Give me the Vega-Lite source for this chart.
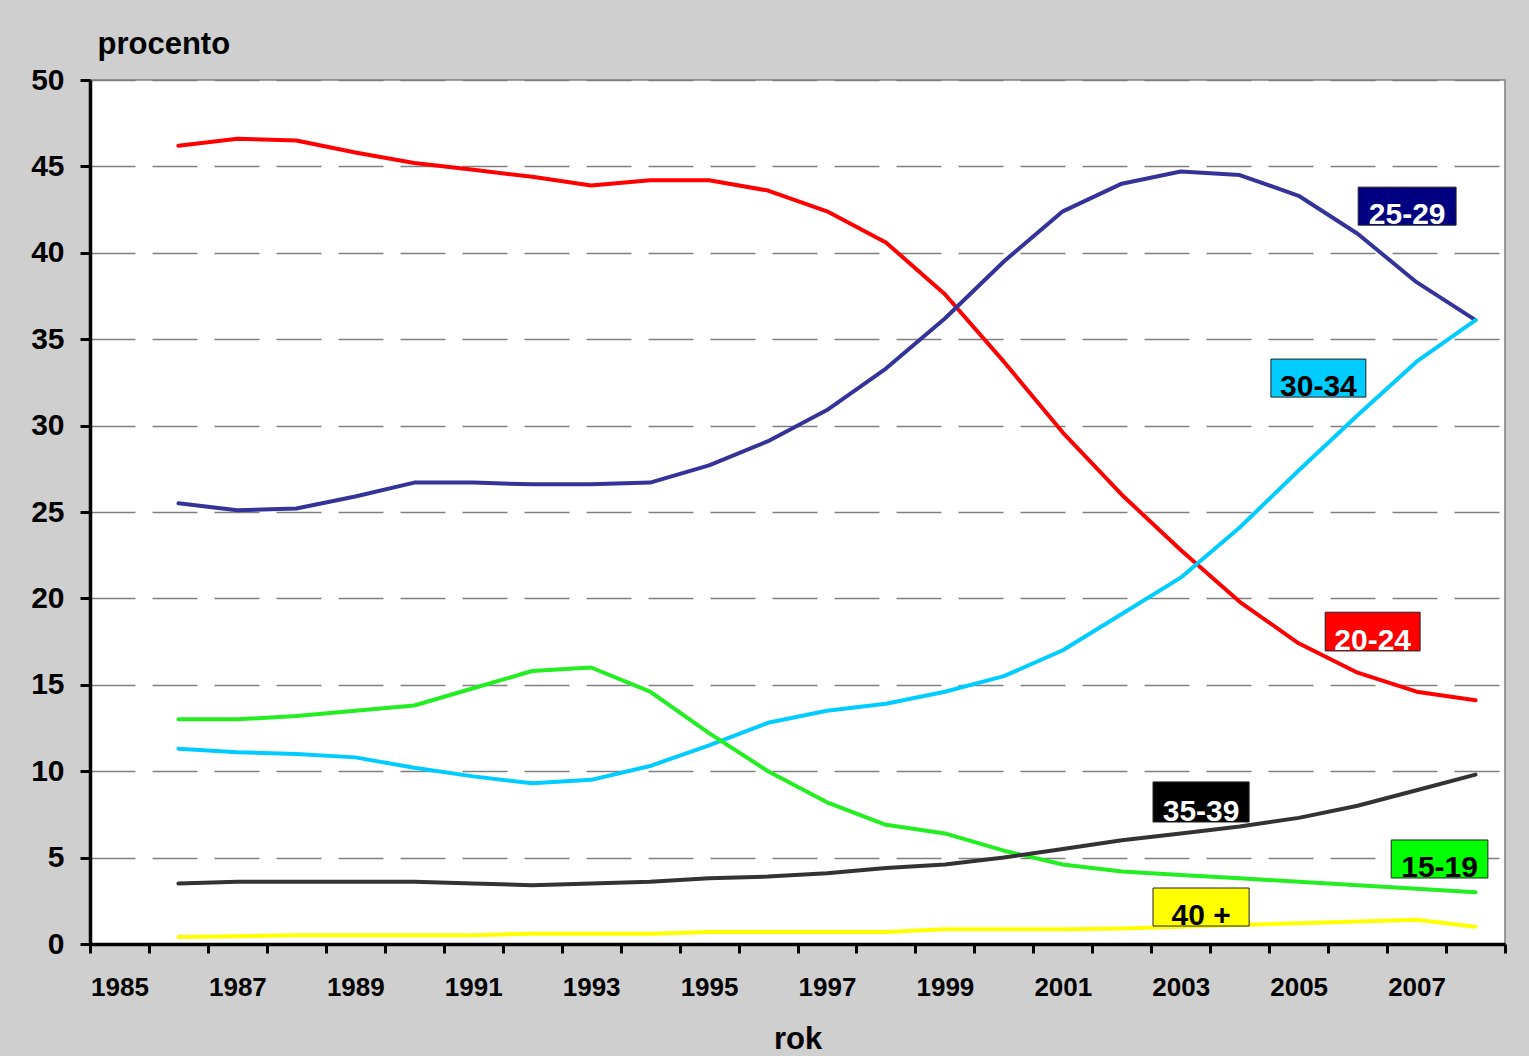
{
  "$schema": "https://vega.github.io/schema/vega-lite/v6.json",
  "width": 1415,
  "height": 864,
  "autosize": {"type": "none"},
  "padding": {"left": 90, "top": 80, "right": 24, "bottom": 112},
  "background": "#cfcfcf",
  "config": {
    "font": "Liberation Sans",
    "view": {"stroke": "#808080", "strokeWidth": 1.5, "fill": "white"}
  },
  "datasets": {
    "series": [
      {"rok": 1986, "grupa": "20-24", "procento": 46.2},
      {"rok": 1987, "grupa": "20-24", "procento": 46.6},
      {"rok": 1988, "grupa": "20-24", "procento": 46.5},
      {"rok": 1989, "grupa": "20-24", "procento": 45.8},
      {"rok": 1990, "grupa": "20-24", "procento": 45.2},
      {"rok": 1991, "grupa": "20-24", "procento": 44.8},
      {"rok": 1992, "grupa": "20-24", "procento": 44.4},
      {"rok": 1993, "grupa": "20-24", "procento": 43.9},
      {"rok": 1994, "grupa": "20-24", "procento": 44.2},
      {"rok": 1995, "grupa": "20-24", "procento": 44.2},
      {"rok": 1996, "grupa": "20-24", "procento": 43.6},
      {"rok": 1997, "grupa": "20-24", "procento": 42.4},
      {"rok": 1998, "grupa": "20-24", "procento": 40.6},
      {"rok": 1999, "grupa": "20-24", "procento": 37.6},
      {"rok": 2000, "grupa": "20-24", "procento": 33.7},
      {"rok": 2001, "grupa": "20-24", "procento": 29.6},
      {"rok": 2002, "grupa": "20-24", "procento": 26.0},
      {"rok": 2003, "grupa": "20-24", "procento": 22.8},
      {"rok": 2004, "grupa": "20-24", "procento": 19.8},
      {"rok": 2005, "grupa": "20-24", "procento": 17.4},
      {"rok": 2006, "grupa": "20-24", "procento": 15.7},
      {"rok": 2007, "grupa": "20-24", "procento": 14.6},
      {"rok": 2008, "grupa": "20-24", "procento": 14.1},
      {"rok": 1986, "grupa": "25-29", "procento": 25.5},
      {"rok": 1987, "grupa": "25-29", "procento": 25.1},
      {"rok": 1988, "grupa": "25-29", "procento": 25.2},
      {"rok": 1989, "grupa": "25-29", "procento": 25.9},
      {"rok": 1990, "grupa": "25-29", "procento": 26.7},
      {"rok": 1991, "grupa": "25-29", "procento": 26.7},
      {"rok": 1992, "grupa": "25-29", "procento": 26.6},
      {"rok": 1993, "grupa": "25-29", "procento": 26.6},
      {"rok": 1994, "grupa": "25-29", "procento": 26.7},
      {"rok": 1995, "grupa": "25-29", "procento": 27.7},
      {"rok": 1996, "grupa": "25-29", "procento": 29.1},
      {"rok": 1997, "grupa": "25-29", "procento": 30.9},
      {"rok": 1998, "grupa": "25-29", "procento": 33.3},
      {"rok": 1999, "grupa": "25-29", "procento": 36.2},
      {"rok": 2000, "grupa": "25-29", "procento": 39.5},
      {"rok": 2001, "grupa": "25-29", "procento": 42.4},
      {"rok": 2002, "grupa": "25-29", "procento": 44.0},
      {"rok": 2003, "grupa": "25-29", "procento": 44.7},
      {"rok": 2004, "grupa": "25-29", "procento": 44.5},
      {"rok": 2005, "grupa": "25-29", "procento": 43.3},
      {"rok": 2006, "grupa": "25-29", "procento": 41.1},
      {"rok": 2007, "grupa": "25-29", "procento": 38.3},
      {"rok": 2008, "grupa": "25-29", "procento": 36.1},
      {"rok": 1986, "grupa": "30-34", "procento": 11.3},
      {"rok": 1987, "grupa": "30-34", "procento": 11.1},
      {"rok": 1988, "grupa": "30-34", "procento": 11.0},
      {"rok": 1989, "grupa": "30-34", "procento": 10.8},
      {"rok": 1990, "grupa": "30-34", "procento": 10.2},
      {"rok": 1991, "grupa": "30-34", "procento": 9.7},
      {"rok": 1992, "grupa": "30-34", "procento": 9.3},
      {"rok": 1993, "grupa": "30-34", "procento": 9.5},
      {"rok": 1994, "grupa": "30-34", "procento": 10.3},
      {"rok": 1995, "grupa": "30-34", "procento": 11.5},
      {"rok": 1996, "grupa": "30-34", "procento": 12.8},
      {"rok": 1997, "grupa": "30-34", "procento": 13.5},
      {"rok": 1998, "grupa": "30-34", "procento": 13.9},
      {"rok": 1999, "grupa": "30-34", "procento": 14.6},
      {"rok": 2000, "grupa": "30-34", "procento": 15.5},
      {"rok": 2001, "grupa": "30-34", "procento": 17.0},
      {"rok": 2002, "grupa": "30-34", "procento": 19.1},
      {"rok": 2003, "grupa": "30-34", "procento": 21.2},
      {"rok": 2004, "grupa": "30-34", "procento": 24.1},
      {"rok": 2005, "grupa": "30-34", "procento": 27.4},
      {"rok": 2006, "grupa": "30-34", "procento": 30.6},
      {"rok": 2007, "grupa": "30-34", "procento": 33.7},
      {"rok": 2008, "grupa": "30-34", "procento": 36.1},
      {"rok": 1986, "grupa": "15-19", "procento": 13.0},
      {"rok": 1987, "grupa": "15-19", "procento": 13.0},
      {"rok": 1988, "grupa": "15-19", "procento": 13.2},
      {"rok": 1989, "grupa": "15-19", "procento": 13.5},
      {"rok": 1990, "grupa": "15-19", "procento": 13.8},
      {"rok": 1991, "grupa": "15-19", "procento": 14.8},
      {"rok": 1992, "grupa": "15-19", "procento": 15.8},
      {"rok": 1993, "grupa": "15-19", "procento": 16.0},
      {"rok": 1994, "grupa": "15-19", "procento": 14.6},
      {"rok": 1995, "grupa": "15-19", "procento": 12.2},
      {"rok": 1996, "grupa": "15-19", "procento": 10.0},
      {"rok": 1997, "grupa": "15-19", "procento": 8.2},
      {"rok": 1998, "grupa": "15-19", "procento": 6.9},
      {"rok": 1999, "grupa": "15-19", "procento": 6.4},
      {"rok": 2000, "grupa": "15-19", "procento": 5.4},
      {"rok": 2001, "grupa": "15-19", "procento": 4.6},
      {"rok": 2002, "grupa": "15-19", "procento": 4.2},
      {"rok": 2003, "grupa": "15-19", "procento": 4.0},
      {"rok": 2004, "grupa": "15-19", "procento": 3.8},
      {"rok": 2005, "grupa": "15-19", "procento": 3.6},
      {"rok": 2006, "grupa": "15-19", "procento": 3.4},
      {"rok": 2007, "grupa": "15-19", "procento": 3.2},
      {"rok": 2008, "grupa": "15-19", "procento": 3.0},
      {"rok": 1986, "grupa": "35-39", "procento": 3.5},
      {"rok": 1987, "grupa": "35-39", "procento": 3.6},
      {"rok": 1988, "grupa": "35-39", "procento": 3.6},
      {"rok": 1989, "grupa": "35-39", "procento": 3.6},
      {"rok": 1990, "grupa": "35-39", "procento": 3.6},
      {"rok": 1991, "grupa": "35-39", "procento": 3.5},
      {"rok": 1992, "grupa": "35-39", "procento": 3.4},
      {"rok": 1993, "grupa": "35-39", "procento": 3.5},
      {"rok": 1994, "grupa": "35-39", "procento": 3.6},
      {"rok": 1995, "grupa": "35-39", "procento": 3.8},
      {"rok": 1996, "grupa": "35-39", "procento": 3.9},
      {"rok": 1997, "grupa": "35-39", "procento": 4.1},
      {"rok": 1998, "grupa": "35-39", "procento": 4.4},
      {"rok": 1999, "grupa": "35-39", "procento": 4.6},
      {"rok": 2000, "grupa": "35-39", "procento": 5.0},
      {"rok": 2001, "grupa": "35-39", "procento": 5.5},
      {"rok": 2002, "grupa": "35-39", "procento": 6.0},
      {"rok": 2003, "grupa": "35-39", "procento": 6.4},
      {"rok": 2004, "grupa": "35-39", "procento": 6.8},
      {"rok": 2005, "grupa": "35-39", "procento": 7.3},
      {"rok": 2006, "grupa": "35-39", "procento": 8.0},
      {"rok": 2007, "grupa": "35-39", "procento": 8.9},
      {"rok": 2008, "grupa": "35-39", "procento": 9.8},
      {"rok": 1986, "grupa": "40 +", "procento": 0.4},
      {"rok": 1987, "grupa": "40 +", "procento": 0.45},
      {"rok": 1988, "grupa": "40 +", "procento": 0.5},
      {"rok": 1989, "grupa": "40 +", "procento": 0.5},
      {"rok": 1990, "grupa": "40 +", "procento": 0.5},
      {"rok": 1991, "grupa": "40 +", "procento": 0.5},
      {"rok": 1992, "grupa": "40 +", "procento": 0.6},
      {"rok": 1993, "grupa": "40 +", "procento": 0.6},
      {"rok": 1994, "grupa": "40 +", "procento": 0.6},
      {"rok": 1995, "grupa": "40 +", "procento": 0.7},
      {"rok": 1996, "grupa": "40 +", "procento": 0.7},
      {"rok": 1997, "grupa": "40 +", "procento": 0.7},
      {"rok": 1998, "grupa": "40 +", "procento": 0.7},
      {"rok": 1999, "grupa": "40 +", "procento": 0.85},
      {"rok": 2000, "grupa": "40 +", "procento": 0.85},
      {"rok": 2001, "grupa": "40 +", "procento": 0.85},
      {"rok": 2002, "grupa": "40 +", "procento": 0.9},
      {"rok": 2003, "grupa": "40 +", "procento": 1.0},
      {"rok": 2004, "grupa": "40 +", "procento": 1.1},
      {"rok": 2005, "grupa": "40 +", "procento": 1.2},
      {"rok": 2006, "grupa": "40 +", "procento": 1.3},
      {"rok": 2007, "grupa": "40 +", "procento": 1.4},
      {"rok": 2008, "grupa": "40 +", "procento": 1.0}
    ],
    "labels": [
      {"grupa": "25-29", "x1": 2006.01, "x2": 2007.67, "y1": 41.6, "y2": 43.8},
      {"grupa": "30-34", "x1": 2004.53, "x2": 2006.14, "y1": 31.65, "y2": 33.85},
      {"grupa": "20-24", "x1": 2005.45, "x2": 2007.06, "y1": 16.96, "y2": 19.2},
      {"grupa": "35-39", "x1": 2002.53, "x2": 2004.16, "y1": 7.06, "y2": 9.38},
      {"grupa": "15-19", "x1": 2006.57, "x2": 2008.21, "y1": 3.82, "y2": 6.02},
      {"grupa": "40 +", "x1": 2002.53, "x2": 2004.16, "y1": 1.04, "y2": 3.24}
    ]
  },
  "layer": [
    {
      "data": {"name": "series"},
      "mark": {"type": "line", "strokeWidth": 4, "strokeJoin": "round", "strokeCap": "round"},
      "encoding": {
        "x": {
          "field": "rok",
          "type": "ordinal",
          "bandPosition": 0.5,
          "scale": {
            "type": "band",
            "paddingInner": 0,
            "paddingOuter": 0,
            "domain": [1985, 1986, 1987, 1988, 1989, 1990, 1991, 1992, 1993, 1994, 1995, 1996, 1997, 1998, 1999, 2000, 2001, 2002, 2003, 2004, 2005, 2006, 2007, 2008]
          },
          "axis": {
            "title": "rok",
            "titleFontSize": 31,
            "titleFontWeight": "bold",
            "titleColor": "black",
            "titlePadding": 24,
            "tickBand": "extent",
            "labelExpr": "datum.value % 2 == 1 ? datum.label : ''",
            "labelAngle": 0,
            "labelOverlap": false,
            "labelFontSize": 26,
            "labelFontWeight": "bold",
            "labelColor": "black",
            "labelPadding": 21,
            "tickColor": "black",
            "tickWidth": 3,
            "tickSize": 9,
            "domainColor": "black",
            "domainWidth": 3.5,
            "grid": false
          }
        },
        "y": {
          "field": "procento",
          "type": "quantitative",
          "scale": {"domain": [0, 50], "nice": false, "zero": true},
          "axis": {
            "title": "procento",
            "titleAngle": 0,
            "titleAlign": "left",
            "titleBaseline": "alphabetic",
            "titleX": 7,
            "titleY": -27,
            "titleFontSize": 31,
            "titleFontWeight": "bold",
            "titleColor": "black",
            "values": [0, 5, 10, 15, 20, 25, 30, 35, 40, 45, 50],
            "labelFontSize": 30,
            "labelFontWeight": "bold",
            "labelColor": "black",
            "labelPadding": 16,
            "tickColor": "black",
            "tickWidth": 3,
            "tickSize": 10,
            "domainColor": "black",
            "domainWidth": 3.5,
            "grid": true,
            "gridColor": "#808080",
            "gridWidth": 1.3,
            "gridDash": [45, 17]
          }
        },
        "color": {
          "field": "grupa",
          "type": "nominal",
          "scale": {
            "domain": ["15-19", "20-24", "25-29", "30-34", "35-39", "40 +"],
            "range": ["#22ee22", "#ff0000", "#333399", "#00ccff", "#333333", "#ffff00"]
          },
          "legend": null
        }
      }
    },
    {
      "data": {"name": "labels"},
      "mark": {"type": "rect", "stroke": "#222222", "strokeWidth": 1},
      "encoding": {
        "x": {"field": "x1", "type": "quantitative", "scale": {"domain": [1984.5, 2008.5], "nice": false, "zero": false}, "axis": null},
        "x2": {"field": "x2"},
        "y": {"field": "y1", "type": "quantitative"},
        "y2": {"field": "y2"},
        "fill": {
          "field": "grupa",
          "type": "nominal",
          "scale": {
            "domain": ["15-19", "20-24", "25-29", "30-34", "35-39", "40 +"],
            "range": ["#00ff00", "#ff0000", "#000080", "#00ccff", "#000000", "#ffff00"]
          },
          "legend": null
        }
      }
    },
    {
      "data": {"name": "labels"},
      "transform": [{"calculate": "(datum.x1 + datum.x2) / 2", "as": "xm"}],
      "mark": {"type": "text", "fontSize": 30, "fontWeight": "bold", "baseline": "alphabetic", "align": "center", "dy": -1},
      "encoding": {
        "x": {"field": "xm", "type": "quantitative", "scale": {"domain": [1984.5, 2008.5], "nice": false, "zero": false}, "axis": null},
        "y": {"field": "y1", "type": "quantitative"},
        "text": {"field": "grupa"},
        "color": {
          "field": "grupa",
          "type": "nominal",
          "scale": {
            "domain": ["15-19", "20-24", "25-29", "30-34", "35-39", "40 +"],
            "range": ["#000000", "#ffffff", "#ffffff", "#000000", "#ffffff", "#000000"]
          },
          "legend": null
        }
      }
    }
  ],
  "resolve": {"scale": {"x": "independent", "color": "independent"}}
}
